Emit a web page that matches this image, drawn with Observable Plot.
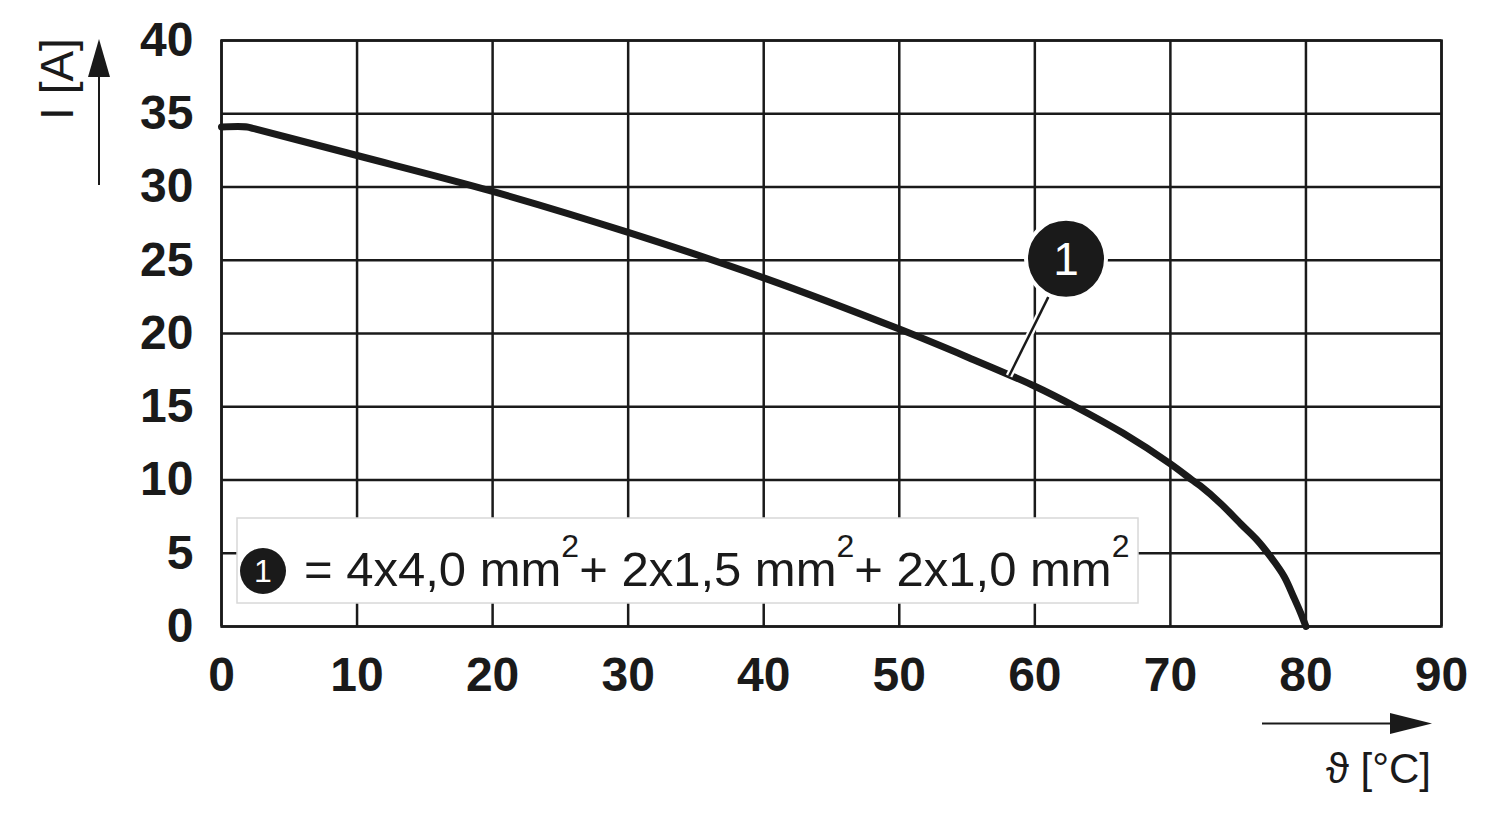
<!DOCTYPE html>
<html><head><meta charset="utf-8">
<script src="https://cdn.jsdelivr.net/npm/d3@7"></script>
<script src="https://cdn.jsdelivr.net/npm/@observablehq/plot@0.6"></script>
<style>body{margin:0;background:#fff} #chart{width:1500px;height:821px}</style>
</head><body><div id="chart"></div>
<script>
// Data
const temperature = [0, 1.9, 2.4, 10, 20, 30, 40, 50, 55, 60, 63, 66.5, 70, 71.6, 72.2, 73.7, 75.2, 76.4, 77.4, 78.4, 79.1, 79.6, 80];
const current     = [34.1, 34.1, 33.98, 32.15, 29.7, 26.9, 23.8, 20.3, 18.4, 16.4, 15.0, 13.2, 11.1, 10.0, 9.6, 8.4, 7.0, 5.9, 4.75, 3.4, 2.0, 0.95, 0];
const xTicks = [0, 10, 20, 30, 40, 50, 60, 70, 80, 90];
const yTicks = [0, 5, 10, 15, 20, 25, 30, 35, 40];
const seriesId = "1";
const legendParts = [["= 4x4,0 mm", "2"], ["+ 2x1,5 mm", "2"], ["+ 2x1,0 mm", "2"]];
const xLabel = "ϑ [°C]";
const yLabel = "I [A]";

const data = temperature.map((t, k) => ({t, i: current[k]}));
const callout = [{x: 62.3, y: 25.1, x1: 58.1, y1: 17.1, x2: 61.0, y2: 22.5}];
const ink = "#1a1a1a";

const svg = Plot.plot({
  width: 1500, height: 821,
  marginLeft: 221, marginRight: 59, marginTop: 40, marginBottom: 195,
  style: {fontFamily: "'Liberation Sans', Arial, sans-serif", fontSize: "48px", fontWeight: "bold", color: ink, background: "white"},
  x: {domain: [0, 90]},
  y: {domain: [0, 40]},
  marks: [
    Plot.gridX(xTicks, {stroke: ink, strokeOpacity: 1, strokeWidth: 2.5}),
    Plot.gridY(yTicks, {stroke: ink, strokeOpacity: 1, strokeWidth: 2.5}),
    Plot.frame({stroke: ink, strokeWidth: 2.5}),
    Plot.axisX(xTicks, {tickSize: 0, tickPadding: 30, label: null, fontSize: 48, fontWeight: "bold", fill: ink}),
    Plot.axisY(yTicks, {tickSize: 0, tickPadding: 28, label: null, fontSize: 48, fontWeight: "bold", fill: ink}),
    Plot.line(data, {x: "t", y: "i", stroke: ink, strokeWidth: 7, curve: "catmull-rom", strokeLinecap: "round", strokeLinejoin: "round"}),
    Plot.link(callout, {x1: "x1", y1: "y1", x2: "x2", y2: "y2", stroke: "white", strokeWidth: 7}),
    Plot.link(callout, {x1: "x1", y1: "y1", x2: "x2", y2: "y2", stroke: ink, strokeWidth: 2.5}),
    Plot.dot(callout, {x: "x", y: "y", r: 40, fill: ink, stroke: "white", strokeWidth: 4}),
    Plot.text(callout, {x: "x", y: "y", text: () => seriesId, fill: "white", fontSize: 46, fontWeight: "normal", dy: 1})
  ]
});

const s = d3.select(svg);
const font = "'Liberation Sans', Arial, sans-serif";

// Legend box
const lg = s.append("g").attr("text-anchor", "start");
lg.append("rect").attr("x", 237).attr("y", 518).attr("width", 901).attr("height", 85)
  .attr("fill", "white").attr("stroke", "#d8d8d8").attr("stroke-width", 1.5);
lg.append("circle").attr("cx", 263).attr("cy", 571).attr("r", 23).attr("fill", ink);
lg.append("text").attr("x", 263).attr("y", 582).attr("text-anchor", "middle")
  .attr("fill", "white").attr("font-family", font).attr("font-size", 32).attr("font-weight", "normal").text(seriesId);
const lt = lg.append("text").attr("x", 304).attr("y", 586).attr("fill", ink).attr("text-anchor", "start")
  .attr("font-family", font).attr("font-size", 49).attr("font-weight", "normal");
legendParts.forEach(([main, sup], k) => {
  lt.append("tspan").attr("dy", k === 0 ? 0 : 29).text(main);
  lt.append("tspan").attr("dy", -29).attr("font-size", 32).text(sup);
});

// Axis labels with arrows
const ya = s.append("g");
ya.append("line").attr("x1", 99).attr("x2", 99).attr("y1", 185).attr("y2", 70).attr("stroke", ink).attr("stroke-width", 2);
ya.append("polygon").attr("points", "99,39 88,77 110,77").attr("fill", ink);
ya.append("text").attr("transform", "translate(73,79) rotate(-90)").attr("text-anchor", "middle")
  .attr("fill", ink).attr("font-family", font).attr("font-size", 46).attr("font-weight", "normal").text(yLabel);

const xa = s.append("g");
xa.append("line").attr("x1", 1262).attr("x2", 1400).attr("y1", 723.5).attr("y2", 723.5).attr("stroke", ink).attr("stroke-width", 2);
xa.append("polygon").attr("points", "1432,723.5 1390,713 1390,734").attr("fill", ink);
xa.append("text").attr("x", 1431).attr("y", 783).attr("text-anchor", "end")
  .attr("fill", ink).attr("font-family", font).attr("font-size", 42).attr("font-weight", "normal").text(xLabel);

document.getElementById("chart").append(svg);
</script>
</body></html>
